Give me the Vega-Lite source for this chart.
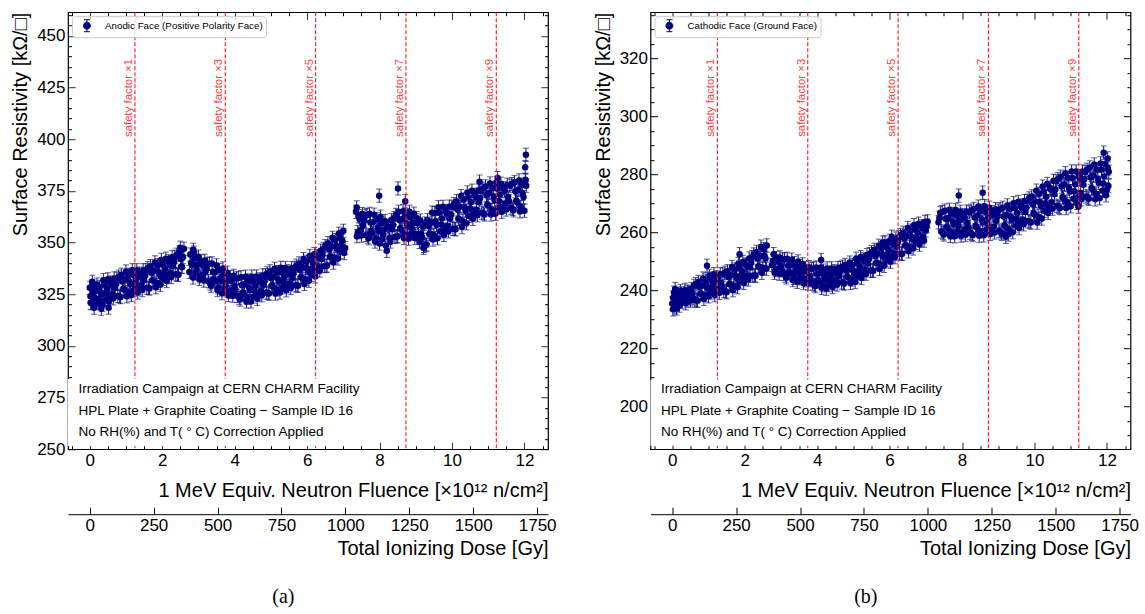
{
"$schema": "https://vega.github.io/schema/vega-lite/v6.json",
"background": "white",
"padding": {"left": 10, "top": 5.2, "right": 5, "bottom": 5},
"autosize": {"type": "pad"},
"spacing": 35.5,
"resolve": {"scale": {"color": "independent"}, "legend": {"color": "independent"}},
"config": {
  "font": "Liberation Sans",
  "view": {"stroke": "black", "strokeWidth": 1.2},
  "axis": {"labelFont": "Liberation Sans", "titleFont": "Liberation Sans", "labelColor": "black", "titleColor": "black", "tickColor": "black", "domainColor": "black", "labelFontSize": 17, "titleFontSize": 20, "titleFontWeight": "normal", "grid": false, "labelFlush": false, "labelOverlap": false, "labelBound": false, "zindex": 1},
  "legend": {"labelFont": "Liberation Sans", "labelColor": "black"}
},
"hconcat": [
{
  "width": 480, "height": 437,
  "title": {"text": "(a)", "orient": "bottom", "font": "Liberation Serif", "fontSize": 20, "fontWeight": "normal", "offset": 28.5, "anchor": "middle", "frame": "bounds", "color": "black"},
  "resolve": {"scale": {"x": "independent"}, "axis": {"x": "independent", "y": "independent"}},
  "layer": [
  {
    "data": {"values": [
{"f":0,"r":328.1,"e":3.2},{"f":0.02,"r":324.0,"e":3.2},{"f":0.05,"r":320.6,"e":3.2},{"f":0.07,"r":331.0,"e":3.2},{"f":0.1,"r":326.2,"e":3.2},{"f":0.12,"r":318.5,"e":3.2},{"f":0.15,"r":323.2,"e":3.2},{"f":0.2,"r":329.7,"e":3.2},{"f":0.25,"r":322.1,"e":3.2},{"f":0.3,"r":326.0,"e":3.2},{"f":0.32,"r":318.0,"e":3.2},{"f":0.35,"r":319.8,"e":3.2},{"f":0.4,"r":329.7,"e":3.2},{"f":0.45,"r":325.3,"e":3.2},{"f":0.5,"r":332.2,"e":3.2},{"f":0.52,"r":318.5,"e":3.2},{"f":0.55,"r":323.5,"e":3.2},{"f":0.6,"r":329.8,"e":3.2},{"f":0.65,"r":323.0,"e":3.2},{"f":0.7,"r":328.1,"e":3.2},{"f":0.75,"r":332.6,"e":3.2},{"f":0.8,"r":333.5,"e":3.2},{"f":0.85,"r":323.6,"e":3.2},{"f":0.9,"r":331.2,"e":3.2},{"f":0.95,"r":327.3,"e":3.2},{"f":1.0,"r":336.0,"e":3.2},{"f":1.05,"r":326.0,"e":3.2},{"f":1.1,"r":331.0,"e":3.2},{"f":1.15,"r":324.6,"e":3.2},{"f":1.2,"r":334.4,"e":3.2},{"f":1.25,"r":329.8,"e":3.2},{"f":1.3,"r":336.6,"e":3.2},{"f":1.35,"r":327.8,"e":3.2},{"f":1.4,"r":334.0,"e":3.2},{"f":1.45,"r":327.0,"e":3.2},{"f":1.5,"r":332.0,"e":3.2},{"f":1.55,"r":336.6,"e":3.2},{"f":1.6,"r":337.6,"e":3.2},{"f":1.65,"r":327.8,"e":3.2},{"f":1.7,"r":335.4,"e":3.2},{"f":1.75,"r":331.6,"e":3.2},{"f":1.8,"r":340.4,"e":3.2},{"f":1.85,"r":330.6,"e":3.2},{"f":1.9,"r":335.8,"e":3.2},{"f":1.95,"r":329.6,"e":3.2},{"f":2.0,"r":339.6,"e":3.2},{"f":2.05,"r":335.2,"e":3.2},{"f":2.1,"r":342.2,"e":3.2},{"f":2.15,"r":333.7,"e":3.2},{"f":2.2,"r":340.1,"e":3.2},{"f":2.25,"r":333.3,"e":3.2},{"f":2.3,"r":338.5,"e":3.2},{"f":2.35,"r":343.1,"e":3.2},{"f":2.4,"r":344.1,"e":3.2},{"f":2.45,"r":334.4,"e":3.2},{"f":2.5,"r":347.5,"e":3.2},{"f":2.51,"r":342.0,"e":3.2},{"f":2.55,"r":338.2,"e":3.2},{"f":2.6,"r":347.0,"e":3.2},
{"f":0.025,"r":320.9,"e":3.2},{"f":0.075,"r":328.8,"e":3.2},{"f":0.125,"r":323.4,"e":3.2},{"f":0.175,"r":326.8,"e":3.2},{"f":0.225,"r":320.7,"e":3.2},{"f":0.275,"r":328.5,"e":3.2},{"f":0.325,"r":325.0,"e":3.2},{"f":0.375,"r":331.8,"e":3.2},{"f":0.425,"r":322.5,"e":3.2},{"f":0.475,"r":327.7,"e":3.2},{"f":0.525,"r":321.4,"e":3.2},{"f":0.575,"r":330.7,"e":3.2},{"f":0.625,"r":325.0,"e":3.2},{"f":0.675,"r":332.6,"e":3.2},{"f":0.725,"r":330.0,"e":3.2},{"f":0.775,"r":324.2,"e":3.2},{"f":0.825,"r":323.9,"e":3.2},{"f":0.875,"r":334.4,"e":3.2},{"f":0.925,"r":327.6,"e":3.2},{"f":0.975,"r":332.1,"e":3.2},{"f":1.025,"r":324.0,"e":3.2},{"f":1.075,"r":334.4,"e":3.2},{"f":1.125,"r":329.8,"e":3.2},{"f":1.175,"r":336.6,"e":3.2},{"f":1.225,"r":327.2,"e":3.2},{"f":1.275,"r":332.2,"e":3.2},{"f":1.325,"r":325.8,"e":3.2},{"f":1.375,"r":335.0,"e":3.2},{"f":1.425,"r":329.2,"e":3.2},{"f":1.475,"r":336.6,"e":3.2},{"f":1.525,"r":334.0,"e":3.2},{"f":1.575,"r":328.2,"e":3.2},{"f":1.625,"r":328.0,"e":3.2},{"f":1.675,"r":338.6,"e":3.2},{"f":1.725,"r":331.8,"e":3.2},{"f":1.775,"r":336.4,"e":3.2},{"f":1.825,"r":328.4,"e":3.2},{"f":1.875,"r":339.0,"e":3.2},{"f":1.925,"r":334.6,"e":3.2},{"f":1.975,"r":341.6,"e":3.2},{"f":2.025,"r":332.4,"e":3.2},{"f":2.075,"r":337.6,"e":3.2},{"f":2.125,"r":331.4,"e":3.2},{"f":2.175,"r":340.9,"e":3.2},{"f":2.225,"r":335.3,"e":3.2},{"f":2.275,"r":342.9,"e":3.2},{"f":2.325,"r":340.5,"e":3.2},{"f":2.375,"r":334.7,"e":3.2},{"f":2.425,"r":334.5,"e":3.2},{"f":2.475,"r":345.2,"e":3.2},{"f":2.525,"r":338.4,"e":3.2},{"f":2.575,"r":343.0,"e":3.2},
{"f":2.75,"r":335.8,"e":3.2},{"f":2.8,"r":340.2,"e":3.2},{"f":2.85,"r":333.1,"e":3.2},{"f":2.86,"r":346.5,"e":3.2},{"f":2.9,"r":342.3,"e":3.2},{"f":2.95,"r":337.0,"e":3.2},{"f":3.0,"r":343.2,"e":3.2},{"f":3.05,"r":333.7,"e":3.2},{"f":3.1,"r":339.3,"e":3.2},{"f":3.15,"r":331.6,"e":3.2},{"f":3.2,"r":336.0,"e":3.2},{"f":3.25,"r":339.7,"e":3.2},{"f":3.3,"r":339.8,"e":3.2},{"f":3.35,"r":329.1,"e":3.2},{"f":3.4,"r":335.8,"e":3.2},{"f":3.45,"r":331.1,"e":3.2},{"f":3.5,"r":339.0,"e":3.2},{"f":3.55,"r":328.3,"e":3.2},{"f":3.6,"r":332.6,"e":3.2},{"f":3.65,"r":325.5,"e":3.2},{"f":3.7,"r":334.6,"e":3.2},{"f":3.75,"r":329.3,"e":3.2},{"f":3.8,"r":335.4,"e":3.2},{"f":3.85,"r":326.1,"e":3.2},{"f":3.9,"r":331.8,"e":3.2},{"f":3.95,"r":324.3,"e":3.2},{"f":4.0,"r":328.8,"e":3.2},{"f":4.05,"r":332.6,"e":3.2},{"f":4.1,"r":332.9,"e":3.2},{"f":4.15,"r":322.4,"e":3.2},{"f":4.2,"r":329.3,"e":3.2},{"f":4.25,"r":325.1,"e":3.2},{"f":4.3,"r":333.5,"e":3.2},{"f":4.35,"r":323.3,"e":3.2},{"f":4.4,"r":328.1,"e":3.2},{"f":4.45,"r":321.5,"e":3.2},{"f":4.5,"r":331.1,"e":3.2},{"f":4.55,"r":326.7,"e":3.2},{"f":4.6,"r":333.6,"e":3.2},{"f":4.65,"r":325.0,"e":3.2},{"f":4.7,"r":331.3,"e":3.2},{"f":4.75,"r":324.5,"e":3.2},{"f":4.8,"r":329.6,"e":3.2},{"f":4.85,"r":334.2,"e":3.2},{"f":4.9,"r":335.1,"e":3.2},{"f":4.95,"r":325.3,"e":3.2},{"f":5.0,"r":332.8,"e":3.2},{"f":5.05,"r":328.8,"e":3.2},{"f":5.1,"r":337.3,"e":3.2},{"f":5.15,"r":327.3,"e":3.2},{"f":5.2,"r":332.3,"e":3.2},{"f":5.25,"r":325.8,"e":3.2},{"f":5.3,"r":335.6,"e":3.2},{"f":5.35,"r":331.0,"e":3.2},{"f":5.4,"r":337.7,"e":3.2},{"f":5.45,"r":328.9,"e":3.2},{"f":5.5,"r":335.1,"e":3.2},{"f":5.55,"r":328.0,"e":3.2},{"f":5.6,"r":333.0,"e":3.2},{"f":5.65,"r":337.7,"e":3.2},{"f":5.7,"r":338.8,"e":3.2},{"f":5.75,"r":329.1,"e":3.2},{"f":5.8,"r":336.8,"e":3.2},{"f":5.85,"r":333.1,"e":3.2},{"f":5.9,"r":342.0,"e":3.2},{"f":5.95,"r":332.3,"e":3.2},{"f":6.0,"r":337.6,"e":3.2},{"f":6.05,"r":331.5,"e":3.2},{"f":6.1,"r":341.6,"e":3.2},{"f":6.15,"r":337.3,"e":3.2},{"f":6.2,"r":344.4,"e":3.2},{"f":6.25,"r":336.2,"e":3.2},{"f":6.3,"r":342.9,"e":3.2},{"f":6.35,"r":336.5,"e":3.2},{"f":6.4,"r":342.0,"e":3.2},{"f":6.45,"r":347.0,"e":3.2},{"f":6.5,"r":348.3,"e":3.2},{"f":6.55,"r":338.9,"e":3.2},{"f":6.6,"r":346.8,"e":3.2},{"f":6.65,"r":343.3,"e":3.2},{"f":6.7,"r":352.3,"e":3.2},{"f":6.75,"r":342.8,"e":3.2},{"f":6.8,"r":348.3,"e":3.2},{"f":6.85,"r":342.3,"e":3.2},{"f":6.9,"r":352.6,"e":3.2},{"f":6.95,"r":348.5,"e":3.2},{"f":7.0,"r":355.7,"e":3.2},{"f":7.05,"r":347.4,"e":3.2},
{"f":2.775,"r":344.2,"e":3.2},{"f":2.825,"r":339.0,"e":3.2},{"f":2.875,"r":345.1,"e":3.2},{"f":2.925,"r":335.1,"e":3.2},{"f":2.975,"r":339.4,"e":3.2},{"f":3.025,"r":332.4,"e":3.2},{"f":3.075,"r":340.9,"e":3.2},{"f":3.125,"r":334.5,"e":3.2},{"f":3.175,"r":341.2,"e":3.2},{"f":3.225,"r":337.5,"e":3.2},{"f":3.275,"r":331.3,"e":3.2},{"f":3.325,"r":330.2,"e":3.2},{"f":3.375,"r":339.9,"e":3.2},{"f":3.425,"r":332.2,"e":3.2},{"f":3.475,"r":335.9,"e":3.2},{"f":3.525,"r":327.0,"e":3.2},{"f":3.575,"r":336.7,"e":3.2},{"f":3.625,"r":331.4,"e":3.2},{"f":3.675,"r":337.5,"e":3.2},{"f":3.725,"r":327.4,"e":3.2},{"f":3.775,"r":331.7,"e":3.2},{"f":3.825,"r":324.6,"e":3.2},{"f":3.875,"r":333.3,"e":3.2},{"f":3.925,"r":327.0,"e":3.2},{"f":3.975,"r":333.9,"e":3.2},{"f":4.025,"r":327.0,"e":3.2},{"f":4.075,"r":324.2,"e":3.2},{"f":4.125,"r":323.3,"e":3.2},{"f":4.175,"r":333.2,"e":3.2},{"f":4.225,"r":325.7,"e":3.2},{"f":4.275,"r":329.9,"e":3.2},{"f":4.325,"r":321.5,"e":3.2},{"f":4.375,"r":331.7,"e":3.2},{"f":4.425,"r":326.9,"e":3.2},{"f":4.475,"r":333.5,"e":3.2},{"f":4.525,"r":323.9,"e":3.2},{"f":4.575,"r":329.1,"e":3.2},{"f":4.625,"r":322.8,"e":3.2},{"f":4.675,"r":332.2,"e":3.2},{"f":4.725,"r":326.5,"e":3.2},{"f":4.775,"r":334.1,"e":3.2},{"f":4.825,"r":331.5,"e":3.2},{"f":4.875,"r":325.8,"e":3.2},{"f":4.925,"r":325.5,"e":3.2},{"f":4.975,"r":336.1,"e":3.2},{"f":5.025,"r":329.2,"e":3.2},{"f":5.075,"r":333.6,"e":3.2},{"f":5.125,"r":325.3,"e":3.2},{"f":5.175,"r":335.7,"e":3.2},{"f":5.225,"r":331.1,"e":3.2},{"f":5.275,"r":337.8,"e":3.2},{"f":5.325,"r":328.4,"e":3.2},{"f":5.375,"r":333.4,"e":3.2},{"f":5.425,"r":326.9,"e":3.2},{"f":5.475,"r":336.1,"e":3.2},{"f":5.525,"r":330.3,"e":3.2},{"f":5.575,"r":337.6,"e":3.2},{"f":5.625,"r":335.0,"e":3.2},{"f":5.675,"r":329.3,"e":3.2},{"f":5.725,"r":329.2,"e":3.2},{"f":5.775,"r":339.9,"e":3.2},{"f":5.825,"r":333.2,"e":3.2},{"f":5.875,"r":337.9,"e":3.2},{"f":5.925,"r":330.0,"e":3.2},{"f":5.975,"r":340.7,"e":3.2},{"f":6.025,"r":336.4,"e":3.2},{"f":6.075,"r":343.5,"e":3.2},{"f":6.125,"r":334.4,"e":3.2},{"f":6.175,"r":339.7,"e":3.2},{"f":6.225,"r":333.6,"e":3.2},{"f":6.275,"r":343.4,"e":3.2},{"f":6.325,"r":338.1,"e":3.2},{"f":6.375,"r":346.1,"e":3.2},{"f":6.425,"r":344.0,"e":3.2},{"f":6.475,"r":338.6,"e":3.2},{"f":6.525,"r":338.7,"e":3.2},{"f":6.575,"r":349.7,"e":3.2},{"f":6.625,"r":343.2,"e":3.2},{"f":6.675,"r":348.1,"e":3.2},{"f":6.725,"r":340.3,"e":3.2},{"f":6.775,"r":351.2,"e":3.2},{"f":6.825,"r":347.1,"e":3.2},{"f":6.875,"r":354.3,"e":3.2},{"f":6.925,"r":345.4,"e":3.2},{"f":6.975,"r":350.9,"e":3.2},{"f":7.025,"r":344.9,"e":3.2},
{"f":7.35,"r":364.9,"e":3.2},{"f":7.37,"r":367.0,"e":3.2},{"f":7.4,"r":355.0,"e":3.2},{"f":7.45,"r":361.3,"e":3.2},{"f":7.5,"r":353.4,"e":3.2},{"f":7.55,"r":358.4,"e":3.2},{"f":7.6,"r":362.9,"e":3.2},{"f":7.65,"r":363.3,"e":3.2},{"f":7.7,"r":352.1,"e":3.2},{"f":7.75,"r":359.7,"e":3.2},{"f":7.8,"r":354.7,"e":3.2},{"f":7.85,"r":363.5,"e":3.2},{"f":7.9,"r":352.1,"e":3.2},{"f":7.95,"r":357.0,"e":3.2},{"f":7.99,"r":372.7,"e":3.2},{"f":8.0,"r":349.5,"e":3.2},{"f":8.05,"r":359.4,"e":3.2},{"f":8.1,"r":353.7,"e":3.2},{"f":8.15,"r":360.4,"e":3.2},{"f":8.2,"r":346.0,"e":3.2},{"f":8.25,"r":357.4,"e":3.2},{"f":8.3,"r":350.5,"e":3.2},{"f":8.35,"r":356.5,"e":3.2},{"f":8.4,"r":361.9,"e":3.2},{"f":8.45,"r":363.4,"e":3.2},{"f":8.5,"r":353.1,"e":3.2},{"f":8.51,"r":376.2,"e":3.2},{"f":8.55,"r":360.9,"e":3.2},{"f":8.6,"r":356.2,"e":3.2},{"f":8.65,"r":365.2,"e":3.2},{"f":8.7,"r":354.0,"e":3.2},{"f":8.71,"r":370.0,"e":3.2},{"f":8.75,"r":359.2,"e":3.2},{"f":8.8,"r":351.9,"e":3.2},{"f":8.85,"r":362.2,"e":3.2},{"f":8.9,"r":356.9,"e":3.2},{"f":8.95,"r":364.0,"e":3.2},{"f":9.0,"r":354.1,"e":3.2},{"f":9.05,"r":359.4,"e":3.2},{"f":9.1,"r":350.3,"e":3.2},{"f":9.15,"r":354.3,"e":3.2},{"f":9.2,"r":357.6,"e":3.2},{"f":9.21,"r":347.5,"e":3.2},{"f":9.25,"r":359.2,"e":3.2},{"f":9.3,"r":349.1,"e":3.2},{"f":9.35,"r":358.0,"e":3.2},{"f":9.4,"r":354.4,"e":3.2},{"f":9.45,"r":364.5,"e":3.2},{"f":9.5,"r":353.7,"e":3.2},{"f":9.55,"r":360.1,"e":3.2},{"f":9.6,"r":352.1,"e":3.2},{"f":9.65,"r":364.4,"e":3.2},{"f":9.7,"r":358.7,"e":3.2},{"f":9.75,"r":367.3,"e":3.2},{"f":9.8,"r":356.3,"e":3.2},{"f":9.85,"r":364.1,"e":3.2},{"f":9.9,"r":355.4,"e":3.2},{"f":9.95,"r":361.7,"e":3.2},{"f":10.0,"r":367.3,"e":3.2},{"f":10.05,"r":368.6,"e":3.2},{"f":10.1,"r":356.4,"e":3.2},{"f":10.15,"r":366.1,"e":3.2},{"f":10.2,"r":361.4,"e":3.2},{"f":10.25,"r":372.5,"e":3.2},{"f":10.3,"r":360.3,"e":3.2},{"f":10.35,"r":367.0,"e":3.2},{"f":10.4,"r":359.3,"e":3.2},{"f":10.45,"r":371.9,"e":3.2},{"f":10.5,"r":366.5,"e":3.2},{"f":10.55,"r":375.1,"e":3.2},{"f":10.6,"r":364.1,"e":3.2},{"f":10.65,"r":371.9,"e":3.2},{"f":10.7,"r":363.2,"e":3.2},{"f":10.75,"r":369.5,"e":3.2},{"f":10.76,"r":379.5,"e":3.2},{"f":10.8,"r":375.1,"e":3.2},{"f":10.85,"r":376.1,"e":3.2},{"f":10.9,"r":363.6,"e":3.2},{"f":10.95,"r":373.0,"e":3.2},{"f":11.0,"r":368.0,"e":3.2},{"f":11.05,"r":378.6,"e":3.2},{"f":11.1,"r":365.9,"e":3.2},{"f":11.15,"r":372.1,"e":3.2},{"f":11.2,"r":363.9,"e":3.2},{"f":11.25,"r":376.0,"e":3.2},{"f":11.26,"r":381.2,"e":3.2},{"f":11.3,"r":370.1,"e":3.2},{"f":11.35,"r":378.5,"e":3.2},{"f":11.4,"r":367.3,"e":3.2},{"f":11.45,"r":374.9,"e":3.2},{"f":11.5,"r":366.0,"e":3.2},{"f":11.55,"r":372.1,"e":3.2},{"f":11.6,"r":377.5,"e":3.2},{"f":11.65,"r":378.3,"e":3.2},{"f":11.7,"r":365.6,"e":3.2},{"f":11.75,"r":374.8,"e":3.2},{"f":11.8,"r":369.5,"e":3.2},{"f":11.85,"r":380.1,"e":3.2},{"f":11.9,"r":367.4,"e":3.2},{"f":11.95,"r":373.6,"e":3.2},{"f":12.0,"r":365.4,"e":3.2},{"f":12.02,"r":386.5,"e":3.2},{"f":12.03,"r":380.0,"e":3.2},{"f":12.04,"r":392.5,"e":3.2},{"f":12.05,"r":377.5,"e":3.2},
{"f":7.375,"r":353.1,"e":3.2},{"f":7.425,"r":362.8,"e":3.2},{"f":7.475,"r":356.1,"e":3.2},{"f":7.525,"r":363.8,"e":3.2},{"f":7.575,"r":360.5,"e":3.2},{"f":7.625,"r":353.7,"e":3.2},{"f":7.675,"r":352.9,"e":3.2},{"f":7.725,"r":363.9,"e":3.2},{"f":7.775,"r":355.7,"e":3.2},{"f":7.825,"r":359.9,"e":3.2},{"f":7.875,"r":350.5,"e":3.2},{"f":7.925,"r":361.3,"e":3.2},{"f":7.975,"r":355.6,"e":3.2},{"f":8.025,"r":362.5,"e":3.2},{"f":8.075,"r":351.6,"e":3.2},{"f":8.125,"r":356.3,"e":3.2},{"f":8.175,"r":348.6,"e":3.2},{"f":8.225,"r":357.9,"e":3.2},{"f":8.275,"r":352.2,"e":3.2},{"f":8.325,"r":360.9,"e":3.2},{"f":8.375,"r":358.5,"e":3.2},{"f":8.425,"r":352.7,"e":3.2},{"f":8.475,"r":353.0,"e":3.2},{"f":8.525,"r":364.9,"e":3.2},{"f":8.575,"r":356.9,"e":3.2},{"f":8.625,"r":361.4,"e":3.2},{"f":8.675,"r":352.2,"e":3.2},{"f":8.725,"r":363.2,"e":3.2},{"f":8.775,"r":357.8,"e":3.2},{"f":8.825,"r":364.9,"e":3.2},{"f":8.875,"r":354.4,"e":3.2},{"f":8.925,"r":359.5,"e":3.2},{"f":8.975,"r":352.2,"e":3.2},{"f":9.025,"r":361.9,"e":3.2},{"f":9.075,"r":354.2,"e":3.2},{"f":9.125,"r":360.7,"e":3.2},{"f":9.175,"r":352.5,"e":3.2},{"f":9.225,"r":348.4,"e":3.2},{"f":9.275,"r":348.8,"e":3.2},{"f":9.325,"r":360.9,"e":3.2},{"f":9.375,"r":354.0,"e":3.2},{"f":9.425,"r":359.6,"e":3.2},{"f":9.475,"r":351.5,"e":3.2},{"f":9.525,"r":364.3,"e":3.2},{"f":9.575,"r":358.5,"e":3.2},{"f":9.625,"r":367.1,"e":3.2},{"f":9.675,"r":355.4,"e":3.2},{"f":9.725,"r":361.7,"e":3.2},{"f":9.775,"r":353.7,"e":3.2},{"f":9.825,"r":365.3,"e":3.2},{"f":9.875,"r":358.1,"e":3.2},{"f":9.925,"r":367.4,"e":3.2},{"f":9.975,"r":363.5,"e":3.2},{"f":10.025,"r":356.7,"e":3.2},{"f":10.075,"r":356.6,"e":3.2},{"f":10.125,"r":370.0,"e":3.2},{"f":10.175,"r":361.5,"e":3.2},{"f":10.225,"r":367.4,"e":3.2},{"f":10.275,"r":357.5,"e":3.2},{"f":10.325,"r":370.9,"e":3.2},{"f":10.375,"r":365.4,"e":3.2},{"f":10.425,"r":374.3,"e":3.2},{"f":10.475,"r":362.9,"e":3.2},{"f":10.525,"r":369.5,"e":3.2},{"f":10.575,"r":361.5,"e":3.2},{"f":10.625,"r":373.1,"e":3.2},{"f":10.675,"r":365.9,"e":3.2},{"f":10.725,"r":375.2,"e":3.2},{"f":10.775,"r":371.5,"e":3.2},{"f":10.825,"r":364.5,"e":3.2},{"f":10.875,"r":364.1,"e":3.2},{"f":10.925,"r":377.2,"e":3.2},{"f":10.975,"r":368.4,"e":3.2},{"f":11.025,"r":374.0,"e":3.2},{"f":11.075,"r":363.6,"e":3.2},{"f":11.125,"r":376.5,"e":3.2},{"f":11.175,"r":370.5,"e":3.2},{"f":11.225,"r":378.9,"e":3.2},{"f":11.275,"r":367.0,"e":3.2},{"f":11.325,"r":373.1,"e":3.2},{"f":11.375,"r":364.9,"e":3.2},{"f":11.425,"r":376.3,"e":3.2},{"f":11.475,"r":368.9,"e":3.2},{"f":11.525,"r":378.0,"e":3.2},{"f":11.575,"r":370.0,"e":3.2},{"f":11.625,"r":366.9,"e":3.2},{"f":11.675,"r":366.3,"e":3.2},{"f":11.725,"r":379.2,"e":3.2},{"f":11.775,"r":370.2,"e":3.2},{"f":11.825,"r":375.5,"e":3.2},{"f":11.875,"r":365.1,"e":3.2},{"f":11.925,"r":378.0,"e":3.2},{"f":11.975,"r":372.0,"e":3.2},{"f":12.025,"r":380.4,"e":3.2}
    ]},
    "layer": [
      {"mark": {"type": "errorbar", "ticks": {"size": 6, "color": "#14148a"}, "color": "#14148a", "thickness": 1},
       "encoding": {
         "x": {"field": "f", "type": "quantitative", "scale": {"domain": [-0.6, 12.65], "nice": false, "zero": false},
               "axis": {"orient": "bottom", "title": "1 MeV Equiv. Neutron Fluence [×10¹² n/cm²]", "titleAnchor": "end", "titlePadding": 12, "values": [-0.5,0,0.5,1,1.5,2,2.5,3,3.5,4,4.5,5,5.5,6,6.5,7,7.5,8,8.5,9,9.5,10,10.5,11,11.5,12,12.5], "labelExpr": "datum.value % 2 === 0 ? format(datum.value, 'd') : ''", "tickSize": -7, "tickDash": {"condition": {"test": "datum.value % 2 !== 0", "value": [3.5, 30]}, "value": [1, 0]}, "labelPadding": 10.5, "domain": false}},
         "y": {"field": "r", "type": "quantitative", "scale": {"domain": [250, 461.5], "nice": false, "zero": false},
               "axis": {"orient": "left", "title": "Surface Resistivity [kΩ/□]", "titleAnchor": "end", "titlePadding": 6, "values": [250,255,260,265,270,275,280,285,290,295,300,305,310,315,320,325,330,335,340,345,350,355,360,365,370,375,380,385,390,395,400,405,410,415,420,425,430,435,440,445,450,455,460], "labelExpr": "datum.value % 25 === 0 ? format(datum.value, 'd') : ''", "tickSize": -7, "tickDash": {"condition": {"test": "datum.value % 25 !== 0", "value": [3.5, 30]}, "value": [1, 0]}, "labelPadding": 10, "domain": false}},
         "yError": {"field": "e"}
       }},
      {"mark": {"type": "point", "filled": true, "size": 42, "opacity": 1},
       "encoding": {
         "x": {"field": "f", "type": "quantitative", "scale": {"domain": [-0.6, 12.65], "nice": false, "zero": false},
               "axis": {"orient": "bottom", "title": "1 MeV Equiv. Neutron Fluence [×10¹² n/cm²]", "titleAnchor": "end", "titlePadding": 12, "values": [-0.5,0,0.5,1,1.5,2,2.5,3,3.5,4,4.5,5,5.5,6,6.5,7,7.5,8,8.5,9,9.5,10,10.5,11,11.5,12,12.5], "labelExpr": "datum.value % 2 === 0 ? format(datum.value, 'd') : ''", "tickSize": -7, "tickDash": {"condition": {"test": "datum.value % 2 !== 0", "value": [3.5, 30]}, "value": [1, 0]}, "labelPadding": 10.5, "domain": false}},
         "y": {"field": "r", "type": "quantitative", "scale": {"domain": [250, 461.5], "nice": false, "zero": false},
               "axis": {"orient": "left", "title": "Surface Resistivity [kΩ/□]", "titleAnchor": "end", "titlePadding": 6, "values": [250,255,260,265,270,275,280,285,290,295,300,305,310,315,320,325,330,335,340,345,350,355,360,365,370,375,380,385,390,395,400,405,410,415,420,425,430,435,440,445,450,455,460], "labelExpr": "datum.value % 25 === 0 ? format(datum.value, 'd') : ''", "tickSize": -7, "tickDash": {"condition": {"test": "datum.value % 25 !== 0", "value": [3.5, 30]}, "value": [1, 0]}, "labelPadding": 10, "domain": false}},
         "color": {"datum": "Anodic Face (Positive Polarity Face)", "scale": {"range": ["#000080"]},
                   "legend": {"title": null, "orient": "top-left", "offset": 4, "padding": 3, "symbolType": "M0.32,0 A0.58,0.58 0 1,0 1.48,0 A0.58,0.58 0 1,0 0.32,0 Z M0.9,-1 L0.9,1 M0.4,-1 L1.4,-1 M0.4,1 L1.4,1", "symbolSize": 144, "symbolStrokeColor": "#000080", "symbolStrokeWidth": 1, "labelFontSize": 9.8, "labelOffset": 17, "strokeColor": "#cccccc", "fillColor": "rgba(255,255,255,0.8)", "cornerRadius": 3}}
       }}
    ]
  },
  {
    "data": {"values": [{"label": "safety factor ×1", "dose": 176.7}, {"label": "safety factor ×3", "dose": 530.1}, {"label": "safety factor ×5", "dose": 883.5}, {"label": "safety factor ×7", "dose": 1236.9}, {"label": "safety factor ×9", "dose": 1590.3}]},
    "layer": [
      {"mark": {"type": "rule", "color": "#ff1a1a", "strokeDash": [4, 2], "strokeWidth": 1.1},
       "encoding": {
         "x": {"field": "dose", "type": "quantitative", "scale": {"domain": [-85, 1792.5], "nice": false, "zero": false},
               "axis": {"orient": "bottom", "offset": 65, "title": "Total Ionizing Dose [Gy]", "titleAnchor": "end", "titlePadding": 5.5, "values": [0,250,500,750,1000,1250,1500,1750], "format": "d", "tickSize": -7, "labelPadding": 10, "domain": true}}
       }},
      {"mark": {"type": "text", "angle": 270, "align": "center", "baseline": "bottom", "dy": -1, "fontSize": 11.4, "color": "#ff4040"},
       "encoding": {
         "x": {"field": "dose", "type": "quantitative", "scale": {"domain": [-85, 1792.5], "nice": false, "zero": false},
               "axis": {"orient": "bottom", "offset": 65, "title": "Total Ionizing Dose [Gy]", "titleAnchor": "end", "titlePadding": 5.5, "values": [0,250,500,750,1000,1250,1500,1750], "format": "d", "tickSize": -7, "labelPadding": 10, "domain": true}},
         "y": {"datum": 420, "type": "quantitative", "scale": {"domain": [250, 461.5], "nice": false, "zero": false},
               "axis": {"orient": "right", "title": null, "labels": false, "values": [250,255,260,265,270,275,280,285,290,295,300,305,310,315,320,325,330,335,340,345,350,355,360,365,370,375,380,385,390,395,400,405,410,415,420,425,430,435,440,445,450,455,460], "tickSize": -7, "tickDash": {"condition": {"test": "datum.value % 25 !== 0", "value": [3.5, 30]}, "value": [1, 0]}, "domain": false}},
         "text": {"field": "label"}
       }}
    ]
  },
  {
    "data": {"values": [{}]},
    "layer": [
      {"mark": {"type": "rect", "color": "white"},
       "encoding": {
         "x": {"datum": -0.6, "type": "quantitative", "scale": {"domain": [-0.6, 12.65], "nice": false, "zero": false},
               "axis": {"orient": "top", "title": null, "labels": false, "values": [-0.5,0,0.5,1,1.5,2,2.5,3,3.5,4,4.5,5,5.5,6,6.5,7,7.5,8,8.5,9,9.5,10,10.5,11,11.5,12,12.5], "tickSize": -7, "tickDash": {"condition": {"test": "datum.value % 2 !== 0", "value": [3.5, 30]}, "value": [1, 0]}, "domain": false}},
         "x2": {"datum": 7.6},
         "y": {"datum": 251.6, "type": "quantitative", "scale": {"domain": [250, 461.5], "nice": false, "zero": false}, "axis": null},
         "y2": {"datum": 284}
       }},
      {"mark": {"type": "text", "align": "left", "baseline": "middle", "fontSize": 13.5, "lineHeight": 21.3, "color": "black"},
       "encoding": {
         "x": {"datum": -0.31, "type": "quantitative", "scale": {"domain": [-0.6, 12.65], "nice": false, "zero": false},
               "axis": {"orient": "top", "title": null, "labels": false, "values": [-0.5,0,0.5,1,1.5,2,2.5,3,3.5,4,4.5,5,5.5,6,6.5,7,7.5,8,8.5,9,9.5,10,10.5,11,11.5,12,12.5], "tickSize": -7, "tickDash": {"condition": {"test": "datum.value % 2 !== 0", "value": [3.5, 30]}, "value": [1, 0]}, "domain": false}},
         "y": {"datum": 278.9, "type": "quantitative", "scale": {"domain": [250, 461.5], "nice": false, "zero": false}, "axis": null},
         "text": {"value": ["Irradiation Campaign at CERN CHARM Facility", "HPL Plate + Graphite Coating − Sample ID 16", "No RH(%) and T( ° C) Correction Applied"]}
       }}
    ]
  }
  ]
},
{
  "width": 480, "height": 437,
  "title": {"text": "(b)", "orient": "bottom", "font": "Liberation Serif", "fontSize": 20, "fontWeight": "normal", "offset": 28.5, "anchor": "middle", "frame": "bounds", "color": "black"},
  "resolve": {"scale": {"x": "independent"}, "axis": {"x": "independent", "y": "independent"}},
  "layer": [
  {
    "data": {"values": [
{"f":0,"r":235.5,"e":2.3},{"f":0.02,"r":233.5,"e":2.3},{"f":0.05,"r":239.2,"e":2.3},{"f":0.08,"r":240.5,"e":2.3},{"f":0.1,"r":235.1,"e":2.3},{"f":0.12,"r":233.8,"e":2.3},{"f":0.15,"r":237.4,"e":2.3},{"f":0.2,"r":234.8,"e":2.3},{"f":0.25,"r":239.0,"e":2.3},{"f":0.3,"r":237.2,"e":2.3},{"f":0.35,"r":240.2,"e":2.3},{"f":0.4,"r":236.6,"e":2.3},{"f":0.45,"r":239.3,"e":2.3},{"f":0.5,"r":236.5,"e":2.3},{"f":0.55,"r":238.8,"e":2.3},{"f":0.6,"r":241.6,"e":2.3},{"f":0.65,"r":242.2,"e":2.3},{"f":0.7,"r":236.5,"e":2.3},{"f":0.75,"r":241.1,"e":2.3},{"f":0.8,"r":238.9,"e":2.3},{"f":0.85,"r":244.1,"e":2.3},{"f":0.9,"r":238.4,"e":2.3},{"f":0.95,"r":241.6,"e":2.3},{"f":0.96,"r":248.5,"e":2.3},{"f":1.0,"r":238.0,"e":2.3},{"f":1.05,"r":244.1,"e":2.3},{"f":1.1,"r":241.0,"e":2.3},{"f":1.15,"r":245.6,"e":2.3},{"f":1.2,"r":239.7,"e":2.3},{"f":1.25,"r":243.9,"e":2.3},{"f":1.3,"r":239.2,"e":2.3},{"f":1.35,"r":242.6,"e":2.3},{"f":1.4,"r":245.5,"e":2.3},{"f":1.45,"r":246.1,"e":2.3},{"f":1.5,"r":239.4,"e":2.3},{"f":1.55,"r":244.6,"e":2.3},{"f":1.6,"r":242.1,"e":2.3},{"f":1.65,"r":248.1,"e":2.3},{"f":1.7,"r":241.6,"e":2.3},{"f":1.75,"r":245.2,"e":2.3},{"f":1.8,"r":241.1,"e":2.3},{"f":1.85,"r":247.9,"e":2.3},{"f":1.86,"r":252.5,"e":2.3},{"f":1.9,"r":245.0,"e":2.3},{"f":1.95,"r":249.8,"e":2.3},{"f":2.0,"r":244.1,"e":2.3},{"f":2.05,"r":248.8,"e":2.3},{"f":2.1,"r":243.8,"e":2.3},{"f":2.15,"r":247.9,"e":2.3},{"f":2.2,"r":251.5,"e":2.3},{"f":2.25,"r":252.4,"e":2.3},{"f":2.3,"r":245.1,"e":2.3},{"f":2.35,"r":251.1,"e":2.3},{"f":2.4,"r":248.3,"e":2.3},{"f":2.45,"r":255.1,"e":2.3},{"f":2.5,"r":247.8,"e":2.3},{"f":2.55,"r":252.0,"e":2.3},{"f":2.6,"r":247.5,"e":2.3},{"f":2.61,"r":255.5,"e":2.3},
{"f":0.025,"r":237.5,"e":2.3},{"f":0.075,"r":234.2,"e":2.3},{"f":0.125,"r":238.7,"e":2.3},{"f":0.175,"r":236.8,"e":2.3},{"f":0.225,"r":239.8,"e":2.3},{"f":0.275,"r":236.0,"e":2.3},{"f":0.325,"r":238.2,"e":2.3},{"f":0.375,"r":235.6,"e":2.3},{"f":0.425,"r":239.6,"e":2.3},{"f":0.475,"r":237.3,"e":2.3},{"f":0.525,"r":240.5,"e":2.3},{"f":0.575,"r":237.3,"e":2.3},{"f":0.625,"r":236.6,"e":2.3},{"f":0.675,"r":236.6,"e":2.3},{"f":0.725,"r":242.9,"e":2.3},{"f":0.775,"r":238.9,"e":2.3},{"f":0.825,"r":241.7,"e":2.3},{"f":0.875,"r":237.1,"e":2.3},{"f":0.925,"r":243.4,"e":2.3},{"f":0.975,"r":240.8,"e":2.3},{"f":1.025,"r":245.0,"e":2.3},{"f":1.075,"r":239.3,"e":2.3},{"f":1.125,"r":242.6,"e":2.3},{"f":1.175,"r":238.4,"e":2.3},{"f":1.225,"r":244.5,"e":2.3},{"f":1.275,"r":240.7,"e":2.3},{"f":1.325,"r":245.6,"e":2.3},{"f":1.375,"r":240.9,"e":2.3},{"f":1.425,"r":239.9,"e":2.3},{"f":1.475,"r":239.7,"e":2.3},{"f":1.525,"r":246.6,"e":2.3},{"f":1.575,"r":242.2,"e":2.3},{"f":1.625,"r":245.3,"e":2.3},{"f":1.675,"r":240.1,"e":2.3},{"f":1.725,"r":247.2,"e":2.3},{"f":1.775,"r":244.4,"e":2.3},{"f":1.825,"r":249.1,"e":2.3},{"f":1.875,"r":243.1,"e":2.3},{"f":1.925,"r":246.6,"e":2.3},{"f":1.975,"r":242.6,"e":2.3},{"f":2.025,"r":248.9,"e":2.3},{"f":2.075,"r":245.2,"e":2.3},{"f":2.125,"r":251.0,"e":2.3},{"f":2.175,"r":249.5,"e":2.3},{"f":2.225,"r":245.1,"e":2.3},{"f":2.275,"r":245.2,"e":2.3},{"f":2.325,"r":253.3,"e":2.3},{"f":2.375,"r":248.3,"e":2.3},{"f":2.425,"r":251.9,"e":2.3},{"f":2.475,"r":246.1,"e":2.3},{"f":2.525,"r":254.2,"e":2.3},{"f":2.575,"r":251.0,"e":2.3},
{"f":2.75,"r":248.8,"e":2.3},{"f":2.8,"r":252.5,"e":2.3},{"f":2.85,"r":247.0,"e":2.3},{"f":2.9,"r":250.2,"e":2.3},{"f":2.95,"r":245.8,"e":2.3},{"f":3.0,"r":248.4,"e":2.3},{"f":3.05,"r":250.7,"e":2.3},{"f":3.1,"r":250.7,"e":2.3},{"f":3.15,"r":244.5,"e":2.3},{"f":3.2,"r":248.6,"e":2.3},{"f":3.25,"r":245.9,"e":2.3},{"f":3.3,"r":250.6,"e":2.3},{"f":3.35,"r":244.4,"e":2.3},{"f":3.4,"r":247.1,"e":2.3},{"f":3.45,"r":243.0,"e":2.3},{"f":3.5,"r":248.4,"e":2.3},{"f":3.55,"r":245.3,"e":2.3},{"f":3.6,"r":249.0,"e":2.3},{"f":3.65,"r":243.5,"e":2.3},{"f":3.7,"r":246.8,"e":2.3},{"f":3.75,"r":242.4,"e":2.3},{"f":3.8,"r":245.0,"e":2.3},{"f":3.85,"r":247.4,"e":2.3},{"f":3.9,"r":247.6,"e":2.3},{"f":3.95,"r":241.5,"e":2.3},{"f":4.0,"r":245.7,"e":2.3},{"f":4.05,"r":243.1,"e":2.3},{"f":4.1,"r":247.9,"e":2.3},{"f":4.11,"r":250.5,"e":2.3},{"f":4.15,"r":241.8,"e":2.3},{"f":4.2,"r":244.6,"e":2.3},{"f":4.25,"r":240.6,"e":2.3},{"f":4.3,"r":246.1,"e":2.3},{"f":4.35,"r":243.5,"e":2.3},{"f":4.4,"r":247.6,"e":2.3},{"f":4.45,"r":242.4,"e":2.3},{"f":4.5,"r":246.1,"e":2.3},{"f":4.55,"r":242.1,"e":2.3},{"f":4.6,"r":245.1,"e":2.3},{"f":4.65,"r":247.8,"e":2.3},{"f":4.7,"r":248.2,"e":2.3},{"f":4.75,"r":242.4,"e":2.3},{"f":4.8,"r":246.9,"e":2.3},{"f":4.85,"r":244.6,"e":2.3},{"f":4.9,"r":249.6,"e":2.3},{"f":4.95,"r":243.8,"e":2.3},{"f":5.0,"r":246.9,"e":2.3},{"f":5.05,"r":242.9,"e":2.3},{"f":5.1,"r":249.6,"e":2.3},{"f":5.15,"r":246.8,"e":2.3},{"f":5.2,"r":251.5,"e":2.3},{"f":5.25,"r":245.9,"e":2.3},{"f":5.3,"r":250.2,"e":2.3},{"f":5.35,"r":245.8,"e":2.3},{"f":5.4,"r":249.3,"e":2.3},{"f":5.45,"r":252.5,"e":2.3},{"f":5.5,"r":253.2,"e":2.3},{"f":5.55,"r":246.8,"e":2.3},{"f":5.6,"r":251.9,"e":2.3},{"f":5.65,"r":249.5,"e":2.3},{"f":5.7,"r":255.4,"e":2.3},{"f":5.75,"r":249.0,"e":2.3},{"f":5.8,"r":252.5,"e":2.3},{"f":5.81,"r":256.5,"e":2.3},{"f":5.85,"r":248.5,"e":2.3},{"f":5.9,"r":255.2,"e":2.3},{"f":5.95,"r":252.4,"e":2.3},{"f":6.0,"r":257.1,"e":2.3},{"f":6.05,"r":251.5,"e":2.3},{"f":6.06,"r":258.5,"e":2.3},{"f":6.1,"r":255.9,"e":2.3},{"f":6.15,"r":251.5,"e":2.3},{"f":6.2,"r":255.1,"e":2.3},{"f":6.25,"r":258.3,"e":2.3},{"f":6.3,"r":259.1,"e":2.3},{"f":6.35,"r":252.7,"e":2.3},{"f":6.4,"r":257.9,"e":2.3},{"f":6.45,"r":255.5,"e":2.3},{"f":6.5,"r":261.5,"e":2.3},{"f":6.55,"r":255.0,"e":2.3},{"f":6.6,"r":258.5,"e":2.3},{"f":6.65,"r":254.5,"e":2.3},{"f":6.7,"r":261.2,"e":2.3},{"f":6.75,"r":258.3,"e":2.3},{"f":6.8,"r":263.0,"e":2.3},{"f":6.85,"r":257.3,"e":2.3},{"f":6.9,"r":261.6,"e":2.3},{"f":6.95,"r":257.2,"e":2.3},{"f":7.0,"r":260.7,"e":2.3},{"f":7.05,"r":263.8,"e":2.3},
{"f":2.775,"r":250.2,"e":2.3},{"f":2.825,"r":246.1,"e":2.3},{"f":2.875,"r":251.2,"e":2.3},{"f":2.925,"r":247.4,"e":2.3},{"f":2.975,"r":251.4,"e":2.3},{"f":3.025,"r":247.0,"e":2.3},{"f":3.075,"r":245.7,"e":2.3},{"f":3.125,"r":245.1,"e":2.3},{"f":3.175,"r":250.9,"e":2.3},{"f":3.225,"r":246.4,"e":2.3},{"f":3.275,"r":248.7,"e":2.3},{"f":3.325,"r":243.6,"e":2.3},{"f":3.375,"r":249.4,"e":2.3},{"f":3.425,"r":246.3,"e":2.3},{"f":3.475,"r":250.0,"e":2.3},{"f":3.525,"r":244.2,"e":2.3},{"f":3.575,"r":246.7,"e":2.3},{"f":3.625,"r":242.6,"e":2.3},{"f":3.675,"r":247.7,"e":2.3},{"f":3.725,"r":244.0,"e":2.3},{"f":3.775,"r":248.0,"e":2.3},{"f":3.825,"r":243.5,"e":2.3},{"f":3.875,"r":242.4,"e":2.3},{"f":3.925,"r":242.0,"e":2.3},{"f":3.975,"r":247.9,"e":2.3},{"f":4.025,"r":243.5,"e":2.3},{"f":4.075,"r":245.9,"e":2.3},{"f":4.125,"r":240.9,"e":2.3},{"f":4.175,"r":246.8,"e":2.3},{"f":4.225,"r":243.8,"e":2.3},{"f":4.275,"r":247.6,"e":2.3},{"f":4.325,"r":241.9,"e":2.3},{"f":4.375,"r":244.9,"e":2.3},{"f":4.425,"r":241.2,"e":2.3},{"f":4.475,"r":246.6,"e":2.3},{"f":4.525,"r":243.3,"e":2.3},{"f":4.575,"r":247.7,"e":2.3},{"f":4.625,"r":246.5,"e":2.3},{"f":4.675,"r":242.8,"e":2.3},{"f":4.725,"r":242.6,"e":2.3},{"f":4.775,"r":248.8,"e":2.3},{"f":4.825,"r":244.7,"e":2.3},{"f":4.875,"r":247.4,"e":2.3},{"f":4.925,"r":242.6,"e":2.3},{"f":4.975,"r":248.8,"e":2.3},{"f":5.025,"r":246.1,"e":2.3},{"f":5.075,"r":250.9,"e":2.3},{"f":5.125,"r":244.8,"e":2.3},{"f":5.175,"r":248.4,"e":2.3},{"f":5.225,"r":244.3,"e":2.3},{"f":5.275,"r":250.7,"e":2.3},{"f":5.325,"r":247.0,"e":2.3},{"f":5.375,"r":252.2,"e":2.3},{"f":5.425,"r":250.8,"e":2.3},{"f":5.475,"r":246.9,"e":2.3},{"f":5.525,"r":246.8,"e":2.3},{"f":5.575,"r":254.0,"e":2.3},{"f":5.625,"r":249.5,"e":2.3},{"f":5.675,"r":252.7,"e":2.3},{"f":5.725,"r":247.4,"e":2.3},{"f":5.775,"r":254.6,"e":2.3},{"f":5.825,"r":251.7,"e":2.3},{"f":5.875,"r":256.5,"e":2.3},{"f":5.925,"r":250.4,"e":2.3},{"f":5.975,"r":254.0,"e":2.3},{"f":6.025,"r":249.9,"e":2.3},{"f":6.075,"r":256.3,"e":2.3},{"f":6.125,"r":252.7,"e":2.3},{"f":6.175,"r":257.9,"e":2.3},{"f":6.225,"r":256.6,"e":2.3},{"f":6.275,"r":252.7,"e":2.3},{"f":6.325,"r":252.7,"e":2.3},{"f":6.375,"r":259.9,"e":2.3},{"f":6.425,"r":255.5,"e":2.3},{"f":6.475,"r":258.7,"e":2.3},{"f":6.525,"r":253.5,"e":2.3},{"f":6.575,"r":260.6,"e":2.3},{"f":6.625,"r":257.7,"e":2.3},{"f":6.675,"r":262.5,"e":2.3},{"f":6.725,"r":256.4,"e":2.3},{"f":6.775,"r":259.9,"e":2.3},{"f":6.825,"r":255.8,"e":2.3},{"f":6.875,"r":262.1,"e":2.3},{"f":6.925,"r":258.4,"e":2.3},{"f":6.975,"r":263.6,"e":2.3},{"f":7.025,"r":262.2,"e":2.3},
{"f":7.35,"r":263.5,"e":2.3},{"f":7.4,"r":266.7,"e":2.3},{"f":7.45,"r":267.0,"e":2.3},{"f":7.5,"r":259.3,"e":2.3},{"f":7.55,"r":264.7,"e":2.3},{"f":7.6,"r":261.5,"e":2.3},{"f":7.65,"r":267.8,"e":2.3},{"f":7.7,"r":260.0,"e":2.3},{"f":7.75,"r":263.7,"e":2.3},{"f":7.8,"r":258.7,"e":2.3},{"f":7.85,"r":265.8,"e":2.3},{"f":7.9,"r":262.2,"e":2.3},{"f":7.91,"r":272.7,"e":2.3},{"f":7.95,"r":267.1,"e":2.3},{"f":8.0,"r":260.0,"e":2.3},{"f":8.05,"r":265.1,"e":2.3},{"f":8.1,"r":259.2,"e":2.3},{"f":8.15,"r":263.3,"e":2.3},{"f":8.2,"r":266.9,"e":2.3},{"f":8.25,"r":267.5,"e":2.3},{"f":8.3,"r":259.1,"e":2.3},{"f":8.35,"r":265.2,"e":2.3},{"f":8.4,"r":261.8,"e":2.3},{"f":8.45,"r":268.9,"e":2.3},{"f":8.5,"r":260.5,"e":2.3},{"f":8.55,"r":264.5,"e":2.3},{"f":8.57,"r":273.7,"e":2.3},{"f":8.6,"r":259.0,"e":2.3},{"f":8.65,"r":267.0,"e":2.3},{"f":8.7,"r":263.0,"e":2.3},{"f":8.75,"r":268.5,"e":2.3},{"f":8.8,"r":261.0,"e":2.3},{"f":8.85,"r":266.0,"e":2.3},{"f":8.9,"r":260.0,"e":2.3},{"f":8.95,"r":264.0,"e":2.3},{"f":9.0,"r":267.5,"e":2.3},{"f":9.05,"r":268.0,"e":2.3},{"f":9.1,"r":259.5,"e":2.3},{"f":9.15,"r":265.5,"e":2.3},{"f":9.2,"r":262.0,"e":2.3},{"f":9.21,"r":258.5,"e":2.3},{"f":9.25,"r":269.3,"e":2.3},{"f":9.3,"r":261.1,"e":2.3},{"f":9.35,"r":265.3,"e":2.3},{"f":9.4,"r":260.1,"e":2.3},{"f":9.45,"r":268.4,"e":2.3},{"f":9.5,"r":264.7,"e":2.3},{"f":9.55,"r":270.5,"e":2.3},{"f":9.6,"r":263.3,"e":2.3},{"f":9.65,"r":268.5,"e":2.3},{"f":9.7,"r":262.8,"e":2.3},{"f":9.75,"r":267.1,"e":2.3},{"f":9.8,"r":270.9,"e":2.3},{"f":9.85,"r":271.7,"e":2.3},{"f":9.9,"r":263.4,"e":2.3},{"f":9.95,"r":269.7,"e":2.3},{"f":10.0,"r":266.3,"e":2.3},{"f":10.05,"r":274.4,"e":2.3},{"f":10.1,"r":265.5,"e":2.3},{"f":10.15,"r":270.4,"e":2.3},{"f":10.2,"r":264.8,"e":2.3},{"f":10.25,"r":274.1,"e":2.3},{"f":10.3,"r":270.1,"e":2.3},{"f":10.35,"r":276.7,"e":2.3},{"f":10.4,"r":268.8,"e":2.3},{"f":10.45,"r":274.8,"e":2.3},{"f":10.5,"r":268.2,"e":2.3},{"f":10.55,"r":273.2,"e":2.3},{"f":10.6,"r":277.6,"e":2.3},{"f":10.65,"r":278.4,"e":2.3},{"f":10.7,"r":268.4,"e":2.3},{"f":10.75,"r":275.8,"e":2.3},{"f":10.8,"r":271.8,"e":2.3},{"f":10.85,"r":280.4,"e":2.3},{"f":10.9,"r":270.4,"e":2.3},{"f":10.95,"r":275.4,"e":2.3},{"f":11.0,"r":269.0,"e":2.3},{"f":11.05,"r":278.8,"e":2.3},{"f":11.1,"r":274.2,"e":2.3},{"f":11.15,"r":281.0,"e":2.3},{"f":11.2,"r":272.2,"e":2.3},{"f":11.21,"r":268.9,"e":2.3},{"f":11.25,"r":278.4,"e":2.3},{"f":11.3,"r":271.4,"e":2.3},{"f":11.35,"r":276.4,"e":2.3},{"f":11.4,"r":280.8,"e":2.3},{"f":11.45,"r":281.6,"e":2.3},{"f":11.5,"r":271.6,"e":2.3},{"f":11.55,"r":278.9,"e":2.3},{"f":11.6,"r":274.9,"e":2.3},{"f":11.65,"r":283.4,"e":2.3},{"f":11.7,"r":273.3,"e":2.3},{"f":11.75,"r":278.3,"e":2.3},{"f":11.8,"r":271.8,"e":2.3},{"f":11.85,"r":281.6,"e":2.3},{"f":11.9,"r":276.9,"e":2.3},{"f":11.91,"r":287.5,"e":2.3},{"f":11.95,"r":283.6,"e":2.3},{"f":12.0,"r":274.8,"e":2.3},{"f":12.02,"r":285.5,"e":2.3},{"f":12.04,"r":276.0,"e":2.3},{"f":12.05,"r":280.9,"e":2.3},
{"f":7.375,"r":265.0,"e":2.3},{"f":7.425,"r":260.3,"e":2.3},{"f":7.475,"r":259.8,"e":2.3},{"f":7.525,"r":267.5,"e":2.3},{"f":7.575,"r":261.9,"e":2.3},{"f":7.625,"r":265.1,"e":2.3},{"f":7.675,"r":258.8,"e":2.3},{"f":7.725,"r":266.4,"e":2.3},{"f":7.775,"r":262.7,"e":2.3},{"f":7.825,"r":267.7,"e":2.3},{"f":7.875,"r":260.4,"e":2.3},{"f":7.925,"r":264.0,"e":2.3},{"f":7.975,"r":258.9,"e":2.3},{"f":8.025,"r":266.0,"e":2.3},{"f":8.075,"r":261.1,"e":2.3},{"f":8.125,"r":267.2,"e":2.3},{"f":8.175,"r":261.8,"e":2.3},{"f":8.225,"r":259.9,"e":2.3},{"f":8.275,"r":259.5,"e":2.3},{"f":8.325,"r":268.1,"e":2.3},{"f":8.375,"r":262.2,"e":2.3},{"f":8.425,"r":265.8,"e":2.3},{"f":8.475,"r":258.9,"e":2.3},{"f":8.525,"r":267.5,"e":2.3},{"f":8.575,"r":263.5,"e":2.3},{"f":8.625,"r":269.0,"e":2.3},{"f":8.675,"r":261.0,"e":2.3},{"f":8.725,"r":265.0,"e":2.3},{"f":8.775,"r":259.5,"e":2.3},{"f":8.825,"r":267.0,"e":2.3},{"f":8.875,"r":262.0,"e":2.3},{"f":8.925,"r":268.0,"e":2.3},{"f":8.975,"r":265.5,"e":2.3},{"f":9.025,"r":260.5,"e":2.3},{"f":9.075,"r":260.0,"e":2.3},{"f":9.125,"r":268.5,"e":2.3},{"f":9.175,"r":262.5,"e":2.3},{"f":9.225,"r":266.0,"e":2.3},{"f":9.275,"r":259.3,"e":2.3},{"f":9.325,"r":268.1,"e":2.3},{"f":9.375,"r":264.3,"e":2.3},{"f":9.425,"r":270.1,"e":2.3},{"f":9.475,"r":262.4,"e":2.3},{"f":9.525,"r":266.7,"e":2.3},{"f":9.575,"r":261.5,"e":2.3},{"f":9.625,"r":269.3,"e":2.3},{"f":9.675,"r":264.5,"e":2.3},{"f":9.725,"r":270.8,"e":2.3},{"f":9.775,"r":268.5,"e":2.3},{"f":9.825,"r":263.9,"e":2.3},{"f":9.875,"r":263.7,"e":2.3},{"f":9.925,"r":272.4,"e":2.3},{"f":9.975,"r":266.7,"e":2.3},{"f":10.025,"r":270.7,"e":2.3},{"f":10.075,"r":263.4,"e":2.3},{"f":10.125,"r":273.3,"e":2.3},{"f":10.175,"r":269.2,"e":2.3},{"f":10.225,"r":275.8,"e":2.3},{"f":10.275,"r":267.5,"e":2.3},{"f":10.325,"r":272.3,"e":2.3},{"f":10.375,"r":266.7,"e":2.3},{"f":10.425,"r":275.4,"e":2.3},{"f":10.475,"r":270.4,"e":2.3},{"f":10.525,"r":277.8,"e":2.3},{"f":10.575,"r":274.8,"e":2.3},{"f":10.625,"r":269.2,"e":2.3},{"f":10.675,"r":268.8,"e":2.3},{"f":10.725,"r":279.2,"e":2.3},{"f":10.775,"r":272.2,"e":2.3},{"f":10.825,"r":276.6,"e":2.3},{"f":10.875,"r":268.4,"e":2.3},{"f":10.925,"r":278.8,"e":2.3},{"f":10.975,"r":274.2,"e":2.3},{"f":11.025,"r":281.0,"e":2.3},{"f":11.075,"r":271.6,"e":2.3},{"f":11.125,"r":276.6,"e":2.3},{"f":11.175,"r":270.2,"e":2.3},{"f":11.225,"r":279.4,"e":2.3},{"f":11.275,"r":273.6,"e":2.3},{"f":11.325,"r":281.0,"e":2.3},{"f":11.375,"r":278.3,"e":2.3},{"f":11.425,"r":272.4,"e":2.3},{"f":11.475,"r":272.0,"e":2.3},{"f":11.525,"r":282.4,"e":2.3},{"f":11.575,"r":275.3,"e":2.3},{"f":11.625,"r":279.7,"e":2.3},{"f":11.675,"r":271.4,"e":2.3},{"f":11.725,"r":281.7,"e":2.3},{"f":11.775,"r":277.1,"e":2.3},{"f":11.825,"r":283.8,"e":2.3},{"f":11.875,"r":274.4,"e":2.3},{"f":11.925,"r":279.3,"e":2.3},{"f":11.975,"r":272.8,"e":2.3},{"f":12.025,"r":282.0,"e":2.3}
    ]},
    "layer": [
      {"mark": {"type": "errorbar", "ticks": {"size": 6, "color": "#14148a"}, "color": "#14148a", "thickness": 1},
       "encoding": {
         "x": {"field": "f", "type": "quantitative", "scale": {"domain": [-0.6, 12.65], "nice": false, "zero": false},
               "axis": {"orient": "bottom", "title": "1 MeV Equiv. Neutron Fluence [×10¹² n/cm²]", "titleAnchor": "end", "titlePadding": 12, "values": [-0.5,0,0.5,1,1.5,2,2.5,3,3.5,4,4.5,5,5.5,6,6.5,7,7.5,8,8.5,9,9.5,10,10.5,11,11.5,12,12.5], "labelExpr": "datum.value % 2 === 0 ? format(datum.value, 'd') : ''", "tickSize": -7, "tickDash": {"condition": {"test": "datum.value % 2 !== 0", "value": [3.5, 30]}, "value": [1, 0]}, "labelPadding": 10.5, "domain": false}},
         "y": {"field": "r", "type": "quantitative", "scale": {"domain": [185.3, 335.9], "nice": false, "zero": false},
               "axis": {"orient": "left", "title": "Surface Resistivity [kΩ/□]", "titleAnchor": "end", "titlePadding": 6, "values": [190,195,200,205,210,215,220,225,230,235,240,245,250,255,260,265,270,275,280,285,290,295,300,305,310,315,320,325,330,335], "labelExpr": "datum.value % 20 === 0 ? format(datum.value, 'd') : ''", "tickSize": -7, "tickDash": {"condition": {"test": "datum.value % 20 !== 0", "value": [3.5, 30]}, "value": [1, 0]}, "labelPadding": 10, "domain": false}},
         "yError": {"field": "e"}
       }},
      {"mark": {"type": "point", "filled": true, "size": 42, "opacity": 1},
       "encoding": {
         "x": {"field": "f", "type": "quantitative", "scale": {"domain": [-0.6, 12.65], "nice": false, "zero": false},
               "axis": {"orient": "bottom", "title": "1 MeV Equiv. Neutron Fluence [×10¹² n/cm²]", "titleAnchor": "end", "titlePadding": 12, "values": [-0.5,0,0.5,1,1.5,2,2.5,3,3.5,4,4.5,5,5.5,6,6.5,7,7.5,8,8.5,9,9.5,10,10.5,11,11.5,12,12.5], "labelExpr": "datum.value % 2 === 0 ? format(datum.value, 'd') : ''", "tickSize": -7, "tickDash": {"condition": {"test": "datum.value % 2 !== 0", "value": [3.5, 30]}, "value": [1, 0]}, "labelPadding": 10.5, "domain": false}},
         "y": {"field": "r", "type": "quantitative", "scale": {"domain": [185.3, 335.9], "nice": false, "zero": false},
               "axis": {"orient": "left", "title": "Surface Resistivity [kΩ/□]", "titleAnchor": "end", "titlePadding": 6, "values": [190,195,200,205,210,215,220,225,230,235,240,245,250,255,260,265,270,275,280,285,290,295,300,305,310,315,320,325,330,335], "labelExpr": "datum.value % 20 === 0 ? format(datum.value, 'd') : ''", "tickSize": -7, "tickDash": {"condition": {"test": "datum.value % 20 !== 0", "value": [3.5, 30]}, "value": [1, 0]}, "labelPadding": 10, "domain": false}},
         "color": {"datum": "Cathodic Face (Ground Face)", "scale": {"range": ["#000080"]},
                   "legend": {"title": null, "orient": "top-left", "offset": 4, "padding": 3, "symbolType": "M0.32,0 A0.58,0.58 0 1,0 1.48,0 A0.58,0.58 0 1,0 0.32,0 Z M0.9,-1 L0.9,1 M0.4,-1 L1.4,-1 M0.4,1 L1.4,1", "symbolSize": 144, "symbolStrokeColor": "#000080", "symbolStrokeWidth": 1, "labelFontSize": 9.8, "labelOffset": 17, "strokeColor": "#cccccc", "fillColor": "rgba(255,255,255,0.8)", "cornerRadius": 3}}
       }}
    ]
  },
  {
    "data": {"values": [{"label": "safety factor ×1", "dose": 176.7}, {"label": "safety factor ×3", "dose": 530.1}, {"label": "safety factor ×5", "dose": 883.5}, {"label": "safety factor ×7", "dose": 1236.9}, {"label": "safety factor ×9", "dose": 1590.3}]},
    "layer": [
      {"mark": {"type": "rule", "color": "#ff1a1a", "strokeDash": [4, 2], "strokeWidth": 1.1},
       "encoding": {
         "x": {"field": "dose", "type": "quantitative", "scale": {"domain": [-85, 1792.5], "nice": false, "zero": false},
               "axis": {"orient": "bottom", "offset": 65, "title": "Total Ionizing Dose [Gy]", "titleAnchor": "end", "titlePadding": 5.5, "values": [0,250,500,750,1000,1250,1500,1750], "format": "d", "tickSize": -7, "labelPadding": 10, "domain": true}}
       }},
      {"mark": {"type": "text", "angle": 270, "align": "center", "baseline": "bottom", "dy": -1, "fontSize": 11.4, "color": "#ff4040"},
       "encoding": {
         "x": {"field": "dose", "type": "quantitative", "scale": {"domain": [-85, 1792.5], "nice": false, "zero": false},
               "axis": {"orient": "bottom", "offset": 65, "title": "Total Ionizing Dose [Gy]", "titleAnchor": "end", "titlePadding": 5.5, "values": [0,250,500,750,1000,1250,1500,1750], "format": "d", "tickSize": -7, "labelPadding": 10, "domain": true}},
         "y": {"datum": 306.4, "type": "quantitative", "scale": {"domain": [185.3, 335.9], "nice": false, "zero": false},
               "axis": {"orient": "right", "title": null, "labels": false, "values": [190,195,200,205,210,215,220,225,230,235,240,245,250,255,260,265,270,275,280,285,290,295,300,305,310,315,320,325,330,335], "tickSize": -7, "tickDash": {"condition": {"test": "datum.value % 20 !== 0", "value": [3.5, 30]}, "value": [1, 0]}, "domain": false}},
         "text": {"field": "label"}
       }}
    ]
  },
  {
    "data": {"values": [{}]},
    "layer": [
      {"mark": {"type": "rect", "color": "white"},
       "encoding": {
         "x": {"datum": -0.6, "type": "quantitative", "scale": {"domain": [-0.6, 12.65], "nice": false, "zero": false},
               "axis": {"orient": "top", "title": null, "labels": false, "values": [-0.5,0,0.5,1,1.5,2,2.5,3,3.5,4,4.5,5,5.5,6,6.5,7,7.5,8,8.5,9,9.5,10,10.5,11,11.5,12,12.5], "tickSize": -7, "tickDash": {"condition": {"test": "datum.value % 2 !== 0", "value": [3.5, 30]}, "value": [1, 0]}, "domain": false}},
         "x2": {"datum": 7.6},
         "y": {"datum": 186.5, "type": "quantitative", "scale": {"domain": [185.3, 335.9], "nice": false, "zero": false}, "axis": null},
         "y2": {"datum": 209.2}
       }},
      {"mark": {"type": "text", "align": "left", "baseline": "middle", "fontSize": 13.5, "lineHeight": 21.3, "color": "black"},
       "encoding": {
         "x": {"datum": -0.31, "type": "quantitative", "scale": {"domain": [-0.6, 12.65], "nice": false, "zero": false},
               "axis": {"orient": "top", "title": null, "labels": false, "values": [-0.5,0,0.5,1,1.5,2,2.5,3,3.5,4,4.5,5,5.5,6,6.5,7,7.5,8,8.5,9,9.5,10,10.5,11,11.5,12,12.5], "tickSize": -7, "tickDash": {"condition": {"test": "datum.value % 2 !== 0", "value": [3.5, 30]}, "value": [1, 0]}, "domain": false}},
         "y": {"datum": 205.9, "type": "quantitative", "scale": {"domain": [185.3, 335.9], "nice": false, "zero": false}, "axis": null},
         "text": {"value": ["Irradiation Campaign at CERN CHARM Facility", "HPL Plate + Graphite Coating − Sample ID 16", "No RH(%) and T( ° C) Correction Applied"]}
       }}
    ]
  }
  ]
}
]
}
